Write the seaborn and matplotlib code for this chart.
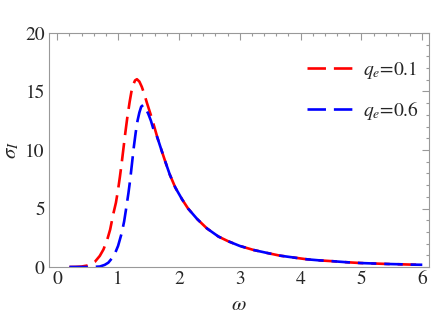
import numpy as np
import pandas as pd
import matplotlib
matplotlib.use("Agg")
import matplotlib.pyplot as plt
import seaborn as sns
from matplotlib.ticker import MultipleLocator

# values
red_omega = [0.20, 0.30, 0.40, 0.50, 0.55, 0.62, 0.70, 0.76, 0.82, 0.87, 0.92, 0.965,
             1.00, 1.03, 1.06, 1.09, 1.12, 1.15, 1.19, 1.22, 1.25, 1.28, 1.31, 1.35,
             1.39, 1.43, 1.47, 1.51, 1.55, 1.60]
red_sigma = [0.00, 0.01, 0.04, 0.13, 0.22, 0.45, 0.95, 1.50, 2.3, 3.2, 4.5, 5.5,
             6.6, 7.7, 8.9, 10.2, 11.5, 12.7, 14.1, 15.0, 15.6, 15.95, 16.05, 15.85,
             15.4, 14.8, 14.1, 13.45, 12.8, 11.9]

blue_omega = [0.20, 0.50, 0.60, 0.70, 0.78, 0.84, 0.90, 0.95, 1.00, 1.06, 1.10, 1.13,
              1.17, 1.20, 1.23, 1.26, 1.29, 1.32, 1.35, 1.38, 1.415, 1.45, 1.496, 1.54,
              1.58, 1.62]
blue_sigma = [0.00, 0.00, 0.01, 0.04, 0.18, 0.37, 0.75, 1.17, 1.8, 2.9, 3.9, 4.9,
              6.3, 7.5, 8.9, 10.3, 11.5, 12.5, 13.2, 13.7, 13.85, 13.6, 13.1, 12.5,
              11.8, 11.4]

# common tail where both curves coincide
tail_omega = [1.65, 1.70, 1.77, 1.85, 1.94, 2.05, 2.15, 2.30, 2.46, 2.65, 2.81, 3.00,
              3.23, 3.45, 3.66, 3.90, 4.10, 4.30, 4.54, 4.75, 4.98, 5.20, 5.42, 5.65,
              5.85, 6.00]
tail_sigma = [11.0, 10.2, 9.1, 7.9, 6.8, 5.8, 5.0, 4.1, 3.3, 2.6, 2.2, 1.8,
              1.45, 1.2, 0.97, 0.80, 0.66, 0.57, 0.49, 0.41, 0.34, 0.30, 0.26, 0.23,
              0.20, 0.19]

labels = [r"$q_e$=0.1", r"$q_e$=0.6"]
colors = ["#ff0000", "#0000ff"]

red_df = pd.DataFrame({"omega": red_omega + tail_omega, "sigma": red_sigma + tail_sigma})
blue_df = pd.DataFrame({"omega": blue_omega + tail_omega, "sigma": blue_sigma + tail_sigma})

sns.set_style("white")
plt.rcParams["font.family"] = ["STIXGeneral", "DejaVu Serif"]
plt.rcParams["mathtext.fontset"] = "stix"

fig = plt.figure(figsize=(4.36, 3.21), dpi=100)
ax = fig.add_axes([49 / 436, 1 - 267 / 321, 380 / 436, 234 / 321])

dash = (0, (7, 3))
for d, c, lab in zip([red_df, blue_df], colors, labels):
    sns.lineplot(data=d, x="omega", y="sigma", color=c, lw=1.9, linestyle=dash,
                 label=lab, ax=ax, legend=False)

ax.set_xlim(-0.135, 6.11)
ax.set_ylim(0, 20)
ax.xaxis.set_major_locator(MultipleLocator(1))
ax.xaxis.set_minor_locator(MultipleLocator(0.2))
ax.yaxis.set_major_locator(MultipleLocator(5))
ax.yaxis.set_minor_locator(MultipleLocator(1))

for s in ax.spines.values():
    s.set_color("#999999")
    s.set_linewidth(0.8)
ax.tick_params(which="both", direction="in", top=True, right=True, color="#999999",
               labelsize=14, pad=3, width=0.8)
ax.tick_params(which="major", length=5)
ax.tick_params(which="minor", length=2.5)

ax.set_xlabel(r"$\omega$", fontsize=15, labelpad=5)
ax.set_ylabel(r"$\sigma_I$", fontsize=15)
ax.yaxis.set_label_coords(-0.072, 0.5)

handles = ax.get_lines()[:2]
ax.legend(handles, labels, loc="upper right", bbox_to_anchor=(1.02, 0.965), frameon=False,
          fontsize=14, handlelength=2.4, handletextpad=0.5, labelspacing=0.95)

fig.savefig("out.png", dpi=100)
